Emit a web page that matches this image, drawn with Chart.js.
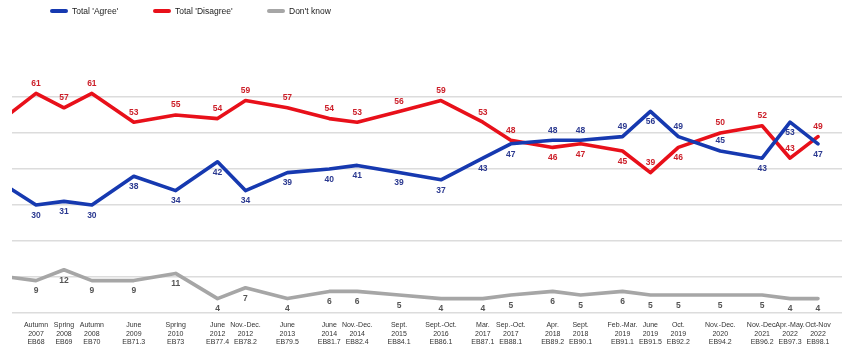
<!DOCTYPE html>
<html>
<head>
<meta charset="utf-8">
<script src="https://cdn.jsdelivr.net/npm/chart.js@4.4.1/dist/chart.umd.min.js"></script>
<style>
    body { margin: 0; background: #fff; }
    #wrap { position: relative; width: 851px; height: 349px; }
    .legenda { position: absolute; top: 5px; height: 12px; display: flex; align-items: center; font: 8.5px "Liberation Sans", Arial, sans-serif; color: #222; }
    .legenda .cor { display: inline-block; width: 18px; height: 4px; border-radius: 2px; margin-right: 4px; }
</style>
</head>
<body>
<div id="wrap">
    <div class="legenda" style="left:50px"><span class="cor" style="background:#1639b0"></span>Total 'Agree'</div>
    <div class="legenda" style="left:153px"><span class="cor" style="background:#e8101a"></span>Total 'Disagree'</div>
    <div class="legenda" style="left:267px"><span class="cor" style="background:#a6a6a6"></span>Don't know</div>
    <canvas id="grafico"></canvas>
</div>
<script>
// ondas do Eurobarometro (rotulos do eixo x)
const ondas = [
    ["Autumn", "2007", "EB68"], ["Spring", "2008", "EB69"], ["Autumn", "2008", "EB70"],
    ["June", "2009", "EB71.3"], ["Spring", "2010", "EB73"], ["June", "2012", "EB77.4"],
    ["Nov.-Dec.", "2012", "EB78.2"], ["June", "2013", "EB79.5"], ["June", "2014", "EB81.7"],
    ["Nov.-Dec.", "2014", "EB82.4"], ["Sept.", "2015", "EB84.1"], ["Sept.-Oct.", "2016", "EB86.1"],
    ["Mar.", "2017", "EB87.1"], ["Sep.-Oct.", "2017", "EB88.1"], ["Apr.", "2018", "EB89.2"],
    ["Sept.", "2018", "EB90.1"], ["Feb.-Mar.", "2019", "EB91.1"], ["June", "2019", "EB91.5"],
    ["Oct.", "2019", "EB92.2"], ["Nov.-Dec.", "2020", "EB94.2"], ["Nov.-Dec.", "2021", "EB96.2"],
    ["Apr.-May.", "2022", "EB97.3"], ["Oct-Nov", "2022", "EB98.1"]
];
// posicao de cada onda no tempo (unidades de onda)
const ondaPos = [0, 1, 2, 3.5, 5, 6.5, 7.5, 9, 10.5, 11.5, 13, 14.5, 16, 17, 18.5, 19.5, 21, 22, 23, 24.5, 26, 27, 28];

const agree    = [30, 31, 30, 38, 34, 42, 34, 39, 40, 41, 39, 37, 43, 47, 48, 48, 49, 56, 49, 45, 43, 53, 47];
const disagree = [61, 57, 61, 53, 55, 54, 59, 57, 54, 53, 56, 59, 53, 48, 46, 47, 45, 39, 46, 50, 52, 43, 49];
const naoSabe  = [9, 12, 9, 9, 11, 4, 7, 4, 6, 6, 5, 4, 4, 5, 6, 5, 6, 5, 5, 5, 5, 4, 4];

// onda anterior, cortada na borda esquerda
const anteriorPos = -1;
const anterior = { agree: 35, disagree: 55, naoSabe: 10 };

// lado do rotulo: a = acima, b = abaixo
const ladoAgree    = "bbbbbbbbbbbbbbaaabaabbbb".split("");
const ladoDisagree = "aaaaaaaaaaaaaabbbabaaaaa".split("");

function serie(valores, inicial) {
    const pts = [{ x: anteriorPos, y: inicial }];
    for (let i = 0; i < valores.length; i++) {
        pts.push({ x: ondaPos[i], y: valores[i] });
    }
    return pts;
}

const rotulosPlugin = {
    id: 'rotulos',
    afterDatasetsDraw(chart) {
        const ctx = chart.ctx;
        ctx.save();
        ctx.font = "bold 8.5px 'Liberation Sans', Arial, sans-serif";
        ctx.textAlign = "center";
        ctx.textBaseline = "middle";
        chart.data.datasets.forEach((ds, i) => {
            const meta = chart.getDatasetMeta(i);
            meta.data.forEach((pt, j) => {
                if (j === 0) return;
                const lado = ds.lados ? ds.lados[j - 1] : 'b';
                const dy = lado === 'a' ? -10 : 10.5;
                ctx.fillStyle = ds.corRotulo;
                ctx.fillText(ds.data[j].y, pt.x, pt.y + dy);
            });
        });
        ctx.restore();
    }
};

const ctx = document.getElementById('grafico');

new Chart(ctx, {
    type: 'line',
    data: {
        datasets: [{
            label: "Total 'Agree'",
            data: serie(agree, anterior.agree),
            borderColor: '#1639b0',
            corRotulo: '#2b3990',
            lados: ladoAgree
        }, {
            label: "Total 'Disagree'",
            data: serie(disagree, anterior.disagree),
            borderColor: '#e8101a',
            corRotulo: '#cc1f29',
            lados: ladoDisagree
        }, {
            label: "Don't know",
            data: serie(naoSabe, anterior.naoSabe),
            borderColor: '#a6a6a6',
            corRotulo: '#555555'
        }]
    },
    options: {
        responsive: true,
        maintainAspectRatio: false,
        animation: false,
        layout: { padding: { left: 12, right: 9, top: 61, bottom: 2.5 } },
        elements: {
            line: { borderWidth: 3.6, tension: 0, borderJoinStyle: 'round', borderCapStyle: 'round' },
            point: { radius: 0, hoverRadius: 0 }
        },
        plugins: {
            legend: { display: false },
            tooltip: { enabled: false }
        },
        scales: {
            x: {
                type: 'linear',
                min: -0.86,
                max: 28.86,
                grid: { display: false, drawTicks: false },
                border: { display: false },
                afterBuildTicks: function (scale) {
                    scale.ticks = ondaPos.map(v => ({ value: v }));
                },
                afterFit: function (scale) {
                    scale.height = 33.5;
                },
                ticks: {
                    autoSkip: false,
                    maxRotation: 0,
                    padding: 8,
                    color: '#333',
                    font: { family: "'Liberation Sans', Arial, sans-serif", size: 7, lineHeight: '8.5px' },
                    callback: function (value) {
                        const i = ondaPos.indexOf(value);
                        return i >= 0 ? ondas[i] : '';
                    }
                }
            },
            y: {
                min: 0,
                max: 70,
                ticks: { display: false, stepSize: 10 },
                border: { display: false },
                grid: {
                    drawTicks: false,
                    lineWidth: 1.5,
                    color: function (c) {
                        return c.tick && c.tick.value === 70 ? 'rgba(0,0,0,0)' : '#dcdcdc';
                    }
                }
            }
        }
    },
    plugins: [rotulosPlugin]
});
</script>
</body>
</html>
